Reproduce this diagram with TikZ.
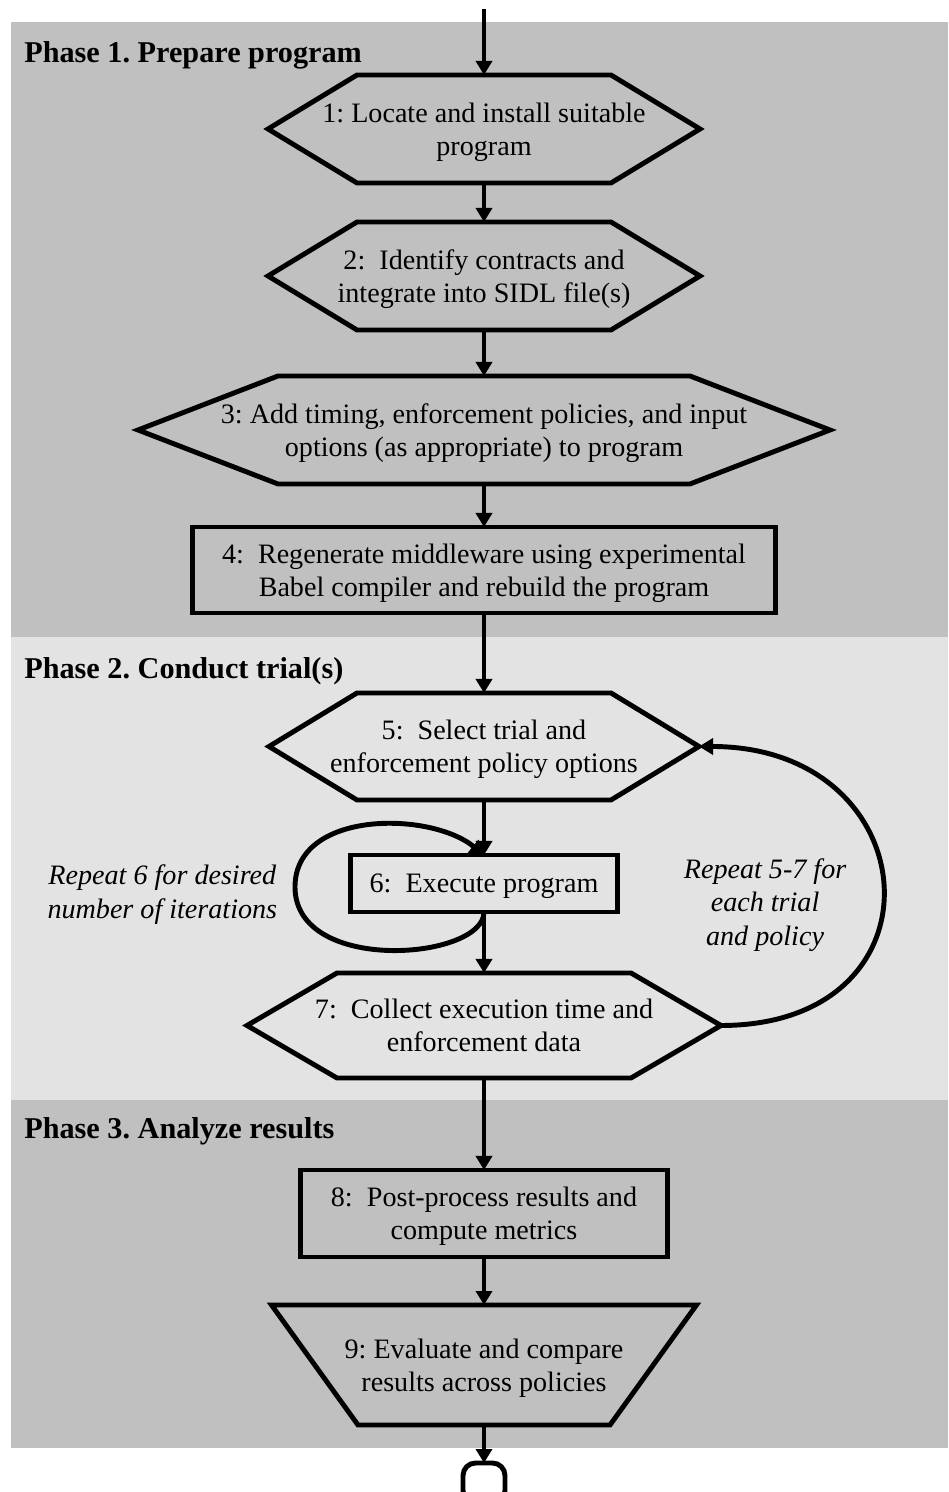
\documentclass[tikz,border=0pt]{standalone}
\usepackage{fontspec}
\setmainfont{Liberation Serif}
\usepackage{tikz}
\usetikzlibrary{arrows.meta}
\usetikzlibrary{positioning}
\frenchspacing
\definecolor{phasedark}{RGB}{192,192,192}
\definecolor{phaselight}{RGB}{227,227,227}
\tikzstyle{stepfont}=[font=\fontsize{16}{18.8}\selectfont,text depth=-5.6pt]
\tikzstyle{hexa}=[stepfont,align=center,inner sep=0,outer sep=0]
\tikzstyle{procbox}=[stepfont,draw,line width=2.8pt,align=center,inner sep=0,outer sep=0]
\tikzstyle{trap}=[hexa]
\tikzstyle{note}=[font=\fontsize{16}{19}\selectfont\itshape,align=center,inner sep=0]
\tikzstyle{phase}=[font=\fontsize{17.2}{20}\selectfont\bfseries,anchor=base west,inner sep=0]
\tikzstyle{outline}=[draw,line width=2.8pt,line join=miter]
\tikzstyle{flow}=[every edge/.style={draw,->,line width=2.8pt}]
\tikzstyle{term}=[draw,line width=2.8pt,rounded corners=0.25cm,minimum width=0.84cm,minimum height=0.8cm,inner sep=0,outer sep=0]
\newcommand{\hexaline}[2]{\draw[outline] (#1.west) -- ([xshift=#2]#1.north west)
  -- ([xshift=-#2]#1.north east) -- (#1.east) -- ([xshift=-#2]#1.south east)
  -- ([xshift=#2]#1.south west) -- cycle;}

\begin{document}
\begin{tikzpicture}[>={Triangle[length=0.28cm,width=0.32cm]}]
\useasboundingbox (0,0) rectangle (18.96,29.84);

% phase bands
\fill[phasedark] (0.22,29.4) rectangle (18.96,17.1);
\fill[phaselight] (0.22,17.1) rectangle (18.96,7.84);
\fill[phasedark] (0.22,7.84) rectangle (18.96,0.88);

\node[phase] (ph1) at (0.48,28.58) {Phase 1. Prepare program};
\node[phase] (ph2) at (0.48,16.26) {Phase 2. Conduct trial(s)};
\node[phase] (ph3) at (0.48,7.06) {Phase 3. Analyze results};

\coordinate (entry) at (9.68,29.66);
\node[hexa,minimum width=8.64cm,minimum height=2.16cm] (n1) at (9.68,27.26)
{1: Locate and install suitable\\program};
\node[hexa,minimum width=8.64cm,minimum height=2.16cm,below=0.78cm of n1] (n2)
{2:\ \ Identify contracts and\\integrate into SIDL file(s)};
\node[hexa,minimum width=13.84cm,minimum height=2.16cm,below=0.92cm of n2] (n3)
{3: Add timing, enforcement policies, and input\\options (as appropriate) to program};
\node[procbox,minimum width=11.66cm,minimum height=1.72cm,below=0.86cm of n3] (n4)
{4:\ \ Regenerate middleware using experimental\\Babel compiler and rebuild the program};
\node[hexa,minimum width=8.6cm,minimum height=2.14cm,below=1.6cm of n4] (n5)
{5:\ \ Select trial and\\enforcement policy options};
\node[procbox,minimum width=5.34cm,minimum height=1.14cm,below=1.1cm of n5] (n6)
{6:\ \ Execute program};
\node[hexa,minimum width=9.48cm,minimum height=2.1cm,below=1.22cm of n6] (n7)
{7:\ \ Collect execution time and\\enforcement data};
\node[procbox,minimum width=7.34cm,minimum height=1.74cm,below=1.84cm of n7] (n8)
{8:\ \ Post-process results and\\compute metrics};
\node[trap,minimum width=8.5cm,minimum height=2.4cm,below=0.96cm of n8] (n9)
{9: Evaluate and compare\\results across policies};
\node[term,below=0.76cm of n9] (stop) {};

\hexaline{n1}{1.78cm}
\hexaline{n2}{1.78cm}
\hexaline{n3}{2.8cm}
\hexaline{n5}{1.76cm}
\hexaline{n7}{1.8cm}
\draw[outline] (n9.north west) -- (n9.north east) -- ([xshift=-1.73cm]n9.south east)
  -- ([xshift=1.73cm]n9.south west) -- cycle;

\node[note,left=1.46cm of n6,yshift=-0.22cm] (rep6) {Repeat 6 for desired\\number of iterations};
\node[note,right=1.32cm of n6,yshift=-0.43cm] (rep57) {Repeat 5-7 for\\each trial\\and policy};

\path[flow]
(entry) edge (n1) (n1) edge (n2) (n2) edge (n3) (n3) edge (n4)
(n4) edge (n5) (n5) edge (n6) (n6) edge (n7) (n7) edge (n8)
(n8) edge (n9) (n9) edge (stop)
;
% repeat loops
\coordinate (loopL) at (5.9,12.1);
\draw[->,line width=2.8pt] (n6.south) .. controls +(0,-0.96) and +(0,-1.76) .. (loopL)
  .. controls +(0,1.54) and +(-1.08,0.88) .. (n6.north);
\draw[->,line width=2.8pt] (n7.east) to[out=0,in=0,distance=4.6cm] (n5.east);
\end{tikzpicture}
\end{document}
